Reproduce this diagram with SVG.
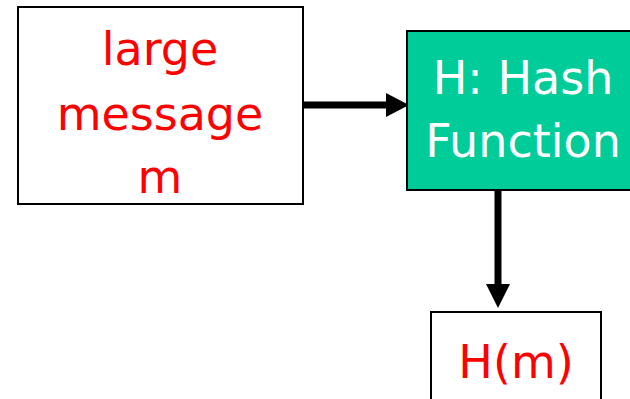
<svg xmlns="http://www.w3.org/2000/svg" width="630" height="399" viewBox="0 0 630 399">
  <style>
    .box { stroke: #000; stroke-width: 2; }
    .lbl { font-family: "Comic Sans MS", "DejaVu Sans", sans-serif; font-size: 46px; text-anchor: middle; }
    .red { fill: #ff0000; }
    .white { fill: #ffffff; }
    .conn { stroke: #000; stroke-width: 7; fill: none; }
    .head { fill: #000; }
  </style>
  <rect width="630" height="399" fill="#ffffff"/>
  <g id="connectors">
    <line class="conn" x1="303" y1="105" x2="388" y2="105"/>
    <polygon class="head" points="386,93 409,105 386,117"/>
    <line class="conn" x1="498" y1="191" x2="498" y2="286"/>
    <polygon class="head" points="486,284 510,284 498,308"/>
  </g>
  <g id="node-message">
    <rect class="box" x="18" y="7" width="285" height="197" fill="#ffffff"/>
    <text class="lbl red" x="160" y="65">large</text>
    <text class="lbl red" x="160" y="130">message</text>
    <text class="lbl red" x="160" y="193">m</text>
  </g>
  <g id="node-hash">
    <rect class="box" x="407" y="31" width="240" height="159" fill="#00cc99"/>
    <text class="lbl white" x="523" y="94">H: Hash</text>
    <text class="lbl white" x="523" y="157">Function</text>
  </g>
  <g id="node-hm">
    <rect class="box" x="431" y="312" width="170" height="100" fill="#ffffff"/>
    <text class="lbl red" x="516" y="378">H(m)</text>
  </g>
</svg>
